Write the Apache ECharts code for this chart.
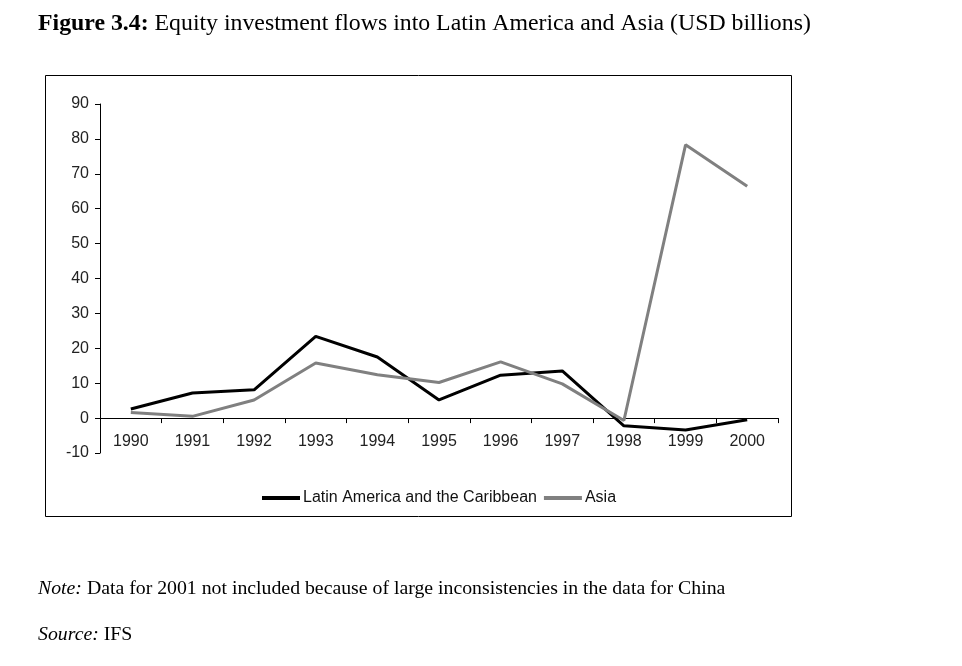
<!DOCTYPE html>
<html><head><meta charset="utf-8">
<script src="https://cdn.jsdelivr.net/npm/echarts@6/dist/echarts.min.js"></script>
<style>html,body{margin:0;padding:0;background:#fff;}#c{width:962px;height:666px;}</style>
</head><body><div id="c"></div>
<script>
var years = ['1990','1991','1992','1993','1994','1995','1996','1997','1998','1999','2000'];
var latinAmerica = [2.6, 7.2, 8.1, 23.4, 17.5, 5.2, 12.3, 13.5, -2.2, -3.4, -0.5];
var asia = [1.6, 0.5, 5.2, 15.8, 12.4, 10.2, 16.1, 9.8, -0.7, 78.3, 66.4];
var seriesNames = ['Latin America and the Caribbean', 'Asia'];

var chart = echarts.init(document.getElementById('c'));
chart.setOption({
  animation: false,
  backgroundColor: '#fff',
  title: {
    text: '{b|Figure 3.4:} Equity investment flows into Latin America and Asia (USD billions)',
    left: 38, top: 12, padding: 0,
    textStyle: {
      fontFamily: 'Liberation Serif', fontSize: 23.8, fontWeight: 'normal', color: '#000',
      rich: { b: { fontFamily: 'Liberation Serif', fontSize: 23.8, fontWeight: 'bold', color: '#000' } }
    }
  },
  graphic: [
    { type: 'rect', shape: { x: 45.5, y: 75.5, width: 746, height: 441 }, style: { fill: 'none', stroke: '#000', lineWidth: 1 }, z: -1 },
    { type: 'text', left: 38, top: 579, style: {
      text: '{i|Note:} Data for 2001 not included because of large inconsistencies in the data for China',
      font: '19.8px "Liberation Serif"', fill: '#000',
      rich: { i: { fontFamily: 'Liberation Serif', fontSize: 19.8, fontStyle: 'italic', fill: '#000' } } } },
    { type: 'text', left: 38, top: 625, style: {
      text: '{i|Source:} IFS',
      font: '19.8px "Liberation Serif"', fill: '#000',
      rich: { i: { fontFamily: 'Liberation Serif', fontSize: 19.8, fontStyle: 'italic', fill: '#000' } } } }
  ],
  legend: {
    data: seriesNames,
    top: 490,
    left: 260,
    padding: 0,
    itemWidth: 38,
    itemHeight: 4,
    itemGap: 5,
    lineStyle: { width: 4 },
    textStyle: { fontFamily: 'Liberation Sans', fontSize: 16, color: '#111', padding: [0, 0, 0, -2] }
  },
  grid: { left: 100, right: 184, top: 104, bottom: 213 },
  xAxis: {
    type: 'category',
    data: years,
    boundaryGap: true,
    axisLine: { onZero: true, lineStyle: { color: '#000', width: 1 } },
    axisTick: { show: true, length: 5, inside: false, alignWithLabel: false, lineStyle: { color: '#000' } },
    axisLabel: { fontFamily: 'Liberation Sans', fontSize: 16, color: '#222', margin: -19 },
    splitLine: { show: false }
  },
  yAxis: {
    type: 'value',
    min: -10, max: 90, interval: 10,
    axisLine: { show: true, lineStyle: { color: '#000', width: 1 } },
    axisTick: { show: true, length: 5, lineStyle: { color: '#000' } },
    axisLabel: { fontFamily: 'Liberation Sans', fontSize: 16, color: '#222', margin: 11 },
    splitLine: { show: false }
  },
  series: [
    { name: seriesNames[0], type: 'line', data: latinAmerica, symbol: 'none',
      lineStyle: { color: '#000', width: 3 }, itemStyle: { color: '#000' } },
    { name: seriesNames[1], type: 'line', data: asia, symbol: 'none',
      lineStyle: { color: '#808080', width: 3 }, itemStyle: { color: '#808080' } }
  ]
});
</script></body></html>
